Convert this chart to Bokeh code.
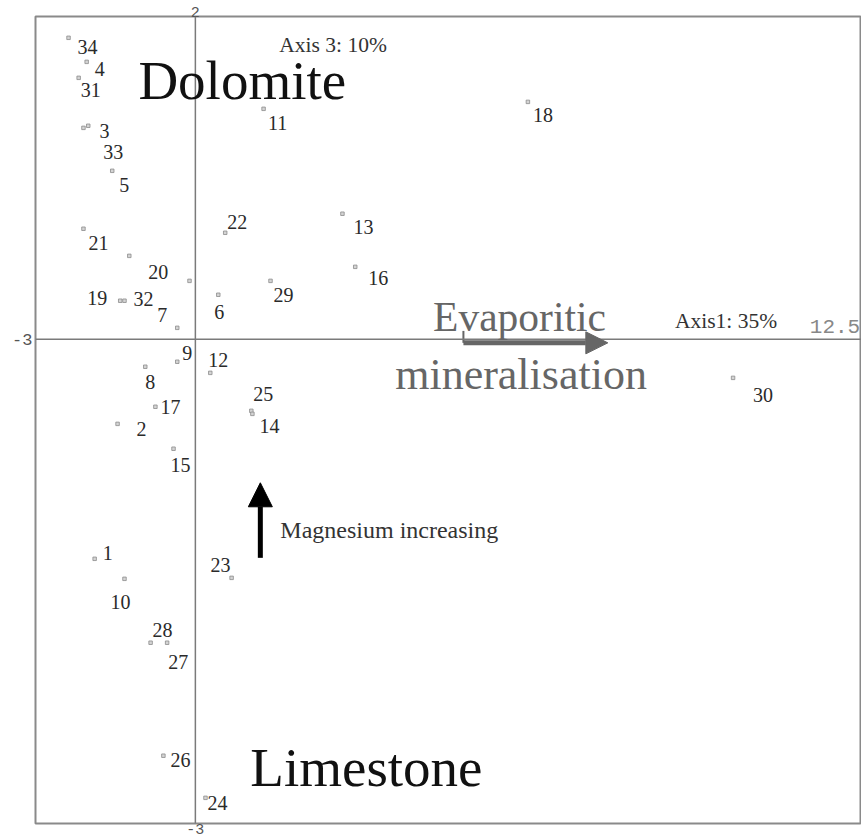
from bokeh.plotting import figure
from bokeh.models import (ColumnDataSource, Range1d, Span, Label, Arrow, NormalHead,
                          LinearAxis, FixedTicker)
from bokeh.core.properties import value
from bokeh.embed import file_html
from bokeh.resources import INLINE

# ---- data (PCA scores: Axis 1 vs Axis 3) ----
sample_ids = ["34", "4", "31", "3", "33", "5", "21", "20", "", "19", "32", "7", "6",
              "22", "11", "29", "13", "16", "18", "30", "9", "12", "8", "17", "2",
              "15", "25", "14", "1", "10", "23", "28", "27", "26", "24"]
axis1 = [-2.38, -2.04, -2.19, -2.10, -2.01, -1.56, -2.10, -1.24, -0.11, -1.41, -1.33,
         -0.34, 0.43, 0.56, 1.28, 1.41, 2.76, 3.00, 6.24, 10.09, -0.34, 0.28, -0.94,
         -0.75, -1.46, -0.41, 1.05, 1.07, -1.89, -1.33, 0.68, -0.84, -0.53, -0.60, 0.19]
axis3 = [1.868, 1.719, 1.620, 1.310, 1.323, 1.044, 0.685, 0.517, 0.362, 0.239, 0.239,
         0.071, 0.276, 0.660, 1.428, 0.362, 0.778, 0.449, 1.471, -0.239, -0.139, -0.208,
         -0.170, -0.418, -0.524, -0.678, -0.443, -0.462, -1.360, -1.484, -1.478, -1.880,
         -1.880, -2.580, -2.841]

# label placement (screen pixel offsets from each point)
label_dx = [19, 13, 12, 21, 25, 12, 15, 29, 0, -23, 19, -15, 1, 12, 14, 13, 21, 23, 15,
            30, 10, 8, 5, 15, 24, 7, 12, 17, 13, -4, -11, 12, 11, 17, 12]
label_dy = [9, 7, 12, 3, 26, 14, 14, 16, 0, -3, -2, -13, 17, -11, 14, 14, 13, 11, 13,
            17, -9, -13, 15, 0, 5, 16, -17, 12, -6, 23, -13, -13, 19, 4, 5]

x_min, x_max = -3, 12.5
y_min, y_max = -3, 2
end_labels = ["-3", "12.5", "-3", "2"]   # x min, x max, y min, y max

SERIF = value("Liberation Serif")
MONO = "Liberation Mono"

p = figure(width=861, height=838, output_backend="svg", toolbar_location=None,
           x_range=Range1d(x_min, x_max), y_range=Range1d(y_min, y_max),
           x_axis_location=None, y_axis_location=None,
           min_border_left=35, min_border_top=16, min_border_right=0, min_border_bottom=15)
p.grid.visible = False
p.outline_line_color = "#8a8a8a"
p.outline_line_width = 2
p.background_fill_color = "white"
p.border_fill_color = "white"


def end_axis(label, standoff, size):
    ax = LinearAxis(ticker=FixedTicker(ticks=[0]), major_label_overrides={0: label},
                    axis_line_color=None, major_tick_line_color=None,
                    minor_tick_line_color=None, major_tick_out=0, major_tick_in=0,
                    major_label_standoff=standoff, major_label_text_font=MONO,
                    major_label_text_font_size=size, major_label_text_color="#555555")
    return ax


p.add_layout(end_axis(end_labels[0], 3, "17px"), "left")    # x-axis minimum, at the Axis 1 line
p.add_layout(end_axis(end_labels[2], 0, "15px"), "below")   # y-axis minimum, at the Axis 3 line
p.add_layout(end_axis(end_labels[3], 0, "15px"), "above")   # y-axis maximum

# axes through origin
p.add_layout(Span(location=0, dimension="height", line_color="#7a7a7a", line_width=1.5))
p.add_layout(Span(location=0, dimension="width", line_color="#7a7a7a", line_width=1.5))

src = ColumnDataSource(dict(x=axis1, y=axis3, label=sample_ids, dx=label_dx, dy=label_dy))
p.scatter("x", "y", source=src, marker="square", size=3.5,
          fill_color="#d4d4d4", line_color="#8c8c8c", line_width=0.8)
p.text("x", "y", text="label", source=src, x_offset="dx", y_offset="dy",
       text_font=SERIF, text_font_size="20px", text_color="#2a2a2a",
       text_align="center", text_baseline="middle")

p.add_layout(Label(x=11.53, y=0.077, text=end_labels[1], text_align="left",
                   text_baseline="middle", text_font=MONO, text_font_size="21px",
                   text_color="#888888"))

# axis captions
p.add_layout(Label(x=1.575, y=1.825, text="Axis 3: 10%", text_font="Liberation Serif",
                   text_font_size="21.5px", text_color="#333333", text_baseline="middle"))
p.add_layout(Label(x=9.0, y=0.115, text="Axis1: 35%", text_font="Liberation Serif",
                   text_font_size="21.5px", text_color="#333333", text_baseline="middle"))

# group names
p.add_layout(Label(x=-1.069, y=1.602, text="Dolomite", text_font="Liberation Serif",
                   text_font_size="55px", text_color="#111111", text_baseline="middle"))
p.add_layout(Label(x=1.031, y=-2.655, text="Limestone", text_font="Liberation Serif",
                   text_font_size="55px", text_color="#111111", text_baseline="middle"))

# evaporitic mineralisation arrow
p.add_layout(Label(x=4.46, y=0.139, text="Evaporitic", text_font="Liberation Serif",
                   text_font_size="41.5px", text_color="#666666", text_baseline="middle"))
p.add_layout(Label(x=3.75, y=-0.220, text="mineralisation", text_font="Liberation Serif",
                   text_font_size="44px", text_color="#666666", text_baseline="middle"))
p.add_layout(Arrow(x_start=5.03, y_start=-0.022, x_end=7.74, y_end=-0.022,
                   line_color="#666666", line_width=5,
                   end=NormalHead(size=22, fill_color="#666666", line_color="#666666")))
p.segment(x0=[5.03], y0=[-0.022], x1=[5.03], y1=[0.052], line_color="#666666", line_width=2)

# magnesium arrow
p.add_layout(Arrow(x_start=1.219, y_start=-1.354, x_end=1.219, y_end=-0.889,
                   line_color="black", line_width=5,
                   end=NormalHead(size=24, fill_color="black", line_color="black")))
p.add_layout(Label(x=1.594, y=-1.180, text="Magnesium increasing", text_font="Liberation Serif",
                   text_font_size="24px", text_color="#333333", text_baseline="middle"))

open("out.html", "w").write(file_html(p, INLINE))
